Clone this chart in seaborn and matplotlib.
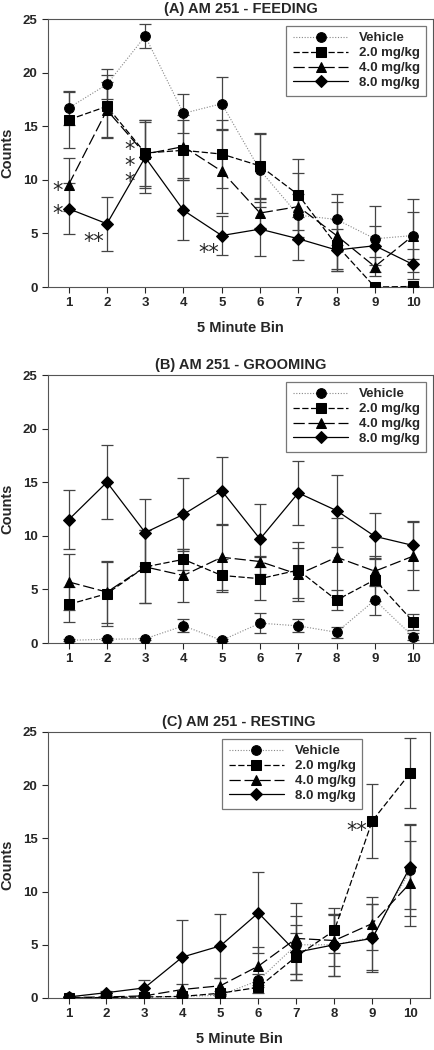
import numpy as np
import pandas as pd
import matplotlib
matplotlib.use("Agg")
import matplotlib.pyplot as plt
import seaborn as sns

#### Data
bins = np.arange(1, 11)
groups = ["Vehicle", "2.0 mg/kg", "4.0 mg/kg", "8.0 mg/kg"]

# (A) feeding
feed_veh = [16.7, 18.9, 23.4, 16.2, 17.1, 10.9, 6.7, 6.3, 4.5, 4.8]
feed_2 = [15.6, 16.85, 12.5, 12.75, 12.4, 11.3, 8.6, 3.9, 0.0, 0.05]
feed_4 = [9.55, 16.5, 12.4, 13.1, 10.8, 6.9, 7.5, 4.8, 1.9, 4.8]
feed_8 = [7.3, 5.9, 12.1, 7.15, 4.8, 5.4, 4.5, 3.45, 3.85, 2.1]
feed_veh_se = [1.6, 1.4, 1.1, 1.8, 2.5, 3.4, 2.0, 2.4, 3.1, 3.4]
feed_2_se = [2.6, 2.9, 3.1, 2.8, 3.2, 3.1, 3.3, 2.4, 0.0, 0.0]
feed_4_se = [2.5, 2.6, 3.2, 2.9, 3.9, 1.4, 3.1, 3.1, 0.9, 2.2]
feed_8_se = [2.4, 2.5, 3.3, 2.8, 1.8, 2.5, 2.0, 2.0, 1.8, 1.4]

# (B) grooming
groom_veh = [0.25, 0.35, 0.4, 1.6, 0.25, 1.85, 1.6, 1.0, 4.0, 0.6]
groom_2 = [3.6, 4.6, 7.1, 7.8, 6.3, 6.0, 6.8, 4.0, 5.9, 2.0]
groom_4 = [5.7, 4.75, 7.1, 6.3, 8.0, 7.6, 6.4, 8.0, 6.7, 8.1]
groom_8 = [11.5, 15.0, 10.3, 12.0, 14.2, 9.7, 14.0, 12.35, 9.95, 9.1]
groom_veh_se = [0.1, 0.1, 0.1, 0.6, 0.1, 0.95, 0.6, 0.5, 1.4, 0.3]
groom_2_se = [1.6, 3.0, 3.4, 1.0, 1.5, 2.0, 2.6, 0.9, 2.0, 0.75]
groom_4_se = [2.6, 2.9, 3.4, 2.5, 3.1, 0.5, 2.5, 3.7, 1.4, 3.2]
groom_8_se = [2.75, 3.45, 3.1, 3.4, 3.15, 3.3, 3.0, 3.35, 2.15, 2.25]

# (C) resting
rest_veh = [0.05, 0.05, 0.05, 0.15, 0.25, 1.65, 5.0, 5.0, 5.7, 12.0]
rest_2 = [0.0, 0.05, 0.1, 0.15, 0.45, 1.0, 3.9, 6.35, 16.65, 21.15]
rest_4 = [0.05, 0.1, 0.2, 0.8, 1.15, 3.0, 5.6, 5.4, 7.0, 10.8]
rest_8 = [0.1, 0.5, 0.95, 3.85, 4.9, 8.0, 4.3, 5.0, 5.6, 12.35]
rest_veh_se = [0.0, 0.0, 0.0, 0.1, 0.1, 0.6, 2.7, 2.9, 3.1, 4.3]
rest_2_se = [0.0, 0.0, 0.05, 0.1, 0.2, 0.5, 2.2, 2.15, 3.5, 3.3]
rest_4_se = [0.0, 0.1, 0.1, 0.5, 0.75, 1.75, 3.3, 2.4, 2.5, 4.0]
rest_8_se = [0.1, 0.2, 0.7, 3.5, 3.0, 3.8, 2.6, 2.9, 3.2, 4.0]

panels = [
    ("(A) AM 251 - FEEDING", [feed_veh, feed_2, feed_4, feed_8],
     [feed_veh_se, feed_2_se, feed_4_se, feed_8_se]),
    ("(B) AM 251 - GROOMING", [groom_veh, groom_2, groom_4, groom_8],
     [groom_veh_se, groom_2_se, groom_4_se, groom_8_se]),
    ("(C) AM 251 - RESTING", [rest_veh, rest_2, rest_4, rest_8],
     [rest_veh_se, rest_2_se, rest_4_se, rest_8_se]),
]

# significance stars: (panel, x, y, text)
stars = [
    (0, 0.70, 9.0, "*"), (0, 0.70, 6.8, "*"),
    (0, 1.65, 4.2, "**"),
    (0, 2.6, 11.3, "*\n*\n*"),
    (0, 4.65, 3.2, "**"),
    (2, 8.6, 15.7, "**"),
]

#### Styles
markers = ["o", "s", "^", "D"]
dashes = [(1, 1.5), (5, 2), (9, 3), ""]
lcolors = ["#888888", "black", "black", "black"]
lwidths = [0.8, 0.9, 0.9, 0.9]
msizes = [7, 6.5, 7, 6.5]

sns.set_style("ticks")
plt.rcParams["font.family"] = ["Liberation Sans", "DejaVu Sans"]
plt.rcParams["font.weight"] = "bold"

fig = plt.figure(figsize=(4.34, 10.5), dpi=100)
boxes = [(19, 287, 433), (375, 643, 433), (732, 998, 430)]
H = 1050.0
W = 434.0

for i, (title, vals, ses) in enumerate(panels):
    top, bottom, right = boxes[i]
    ax = fig.add_axes([48 / W, 1 - bottom / H, (right - 48) / W, (bottom - top) / H])
    for j, g in enumerate(groups):
        df = pd.DataFrame({"bin": bins, "count": vals[j]})
        ax.errorbar(bins, vals[j], yerr=ses[j], fmt="none", ecolor="#444444",
                    elinewidth=0.9, capsize=4, capthick=0.9, zorder=2)
        kw = dict(dashes=dashes[j]) if dashes[j] else dict(linestyle="-")
        sns.lineplot(data=df, x="bin", y="count", ax=ax, color=lcolors[j],
                     lw=lwidths[j], marker=markers[j], markersize=msizes[j],
                     markerfacecolor="black", markeredgecolor="black",
                     label=g, zorder=3, **kw)
    ax.set_xlim(0.46, 10.52)
    ax.set_ylim(0, 25)
    ax.set_xticks(bins)
    ax.set_yticks([0, 5, 10, 15, 20, 25])
    ax.tick_params(labelsize=9.5, length=4, width=0.8)
    for lab in ax.get_xticklabels() + ax.get_yticklabels():
        lab.set_fontweight("bold")
    for s in ax.spines.values():
        s.set_linewidth(0.8)
        s.set_color("#555555")
    ax.set_title(title, fontsize=10.5, fontweight="bold", pad=4)
    ax.set_ylabel("Counts", fontsize=10.5, fontweight="bold", labelpad=6)
    if i == 1:
        ax.set_xlabel("")
    else:
        ax.set_xlabel("5 Minute Bin", fontsize=10.5, fontweight="bold", labelpad=8)
    if i == 2:
        leg = ax.legend(loc="upper right", bbox_to_anchor=(0.84, 1.0), fontsize=9.5,
                        frameon=True, fancybox=False, handlelength=4.2,
                        borderpad=0.5, labelspacing=0.2, handletextpad=0.8)
    else:
        leg = ax.legend(loc="upper right", fontsize=9.5, frameon=True, fancybox=False,
                        handlelength=4.2, borderpad=0.5, labelspacing=0.2,
                        handletextpad=0.8)
    leg.get_frame().set_edgecolor("#555555")
    leg.get_frame().set_linewidth(0.9)
    for t in leg.get_texts():
        t.set_fontweight("bold")
    for k, x, y, txt in stars:
        if k == i:
            ax.text(x, y, txt, fontsize=15, ha="center", va="center",
                    linespacing=0.75, fontfamily="DejaVu Sans",
                    fontweight="normal")

fig.savefig("out.png", dpi=100)
